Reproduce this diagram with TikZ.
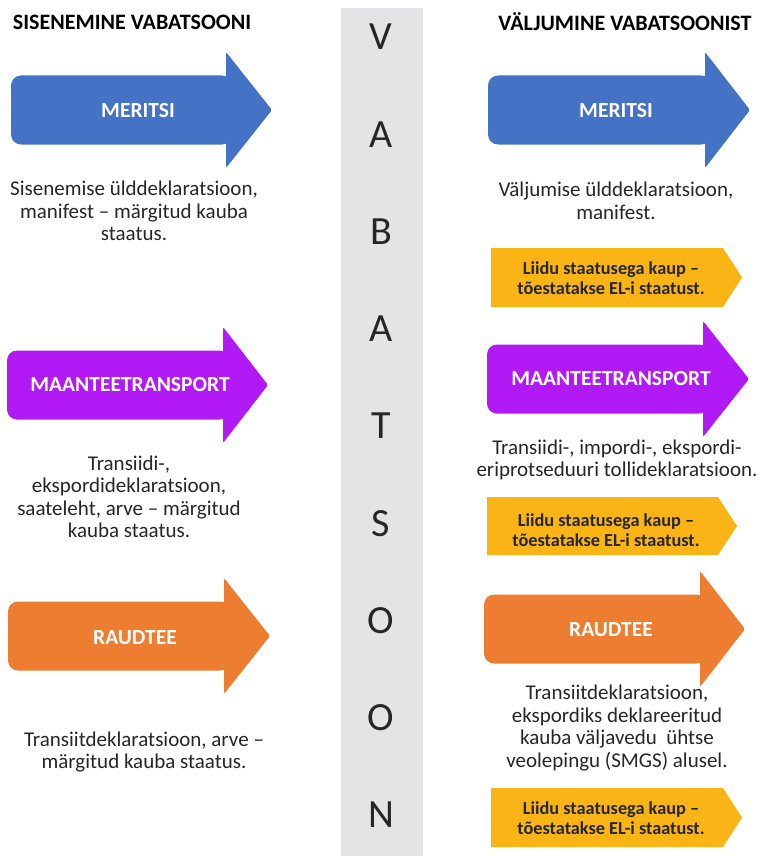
\documentclass[tikz,border=0pt]{standalone}
\usepackage{fontspec}
\setmainfont{Carlito}
\usepackage{xcolor}
\definecolor{myblue}{RGB}{68,114,196}
\definecolor{mypurple}{RGB}{178,26,245}
\definecolor{myorange}{RGB}{237,125,49}
\definecolor{myyellow}{RGB}{250,180,22}
\definecolor{mygray}{RGB}{228,228,230}
\definecolor{mytext}{RGB}{38,38,38}

\begin{document}
\begin{tikzpicture}[x=1pt,y=-1pt,
  kopf/.style={font=\bfseries\fontsize{22}{24}\selectfont, text=black},
  pfeiltext/.style={font=\bfseries\fontsize{21.5}{24}\selectfont, text=white},
  fliess/.style={font=\fontsize{21}{22.5}\selectfont, text=mytext, align=center},
  gelbtext/.style={font=\bfseries\fontsize{18.3}{20.5}\selectfont, text=mytext, align=center},
  buchst/.style={font=\fontsize{40}{40}\selectfont, text=mytext}]
\useasboundingbox (0,0) rectangle (763,856);

%Pfeil: Farbe, x links, x Kopf, x Spitze, y Mitte
\newcommand\pfeil[5]{%
  \fill[#1, rounded corners=10pt] (#3+6,#5-34.5) -- (#2,#5-34.5) -- (#2,#5+34.5) -- (#3+6,#5+34.5) -- cycle;
  \fill[#1, rounded corners=2pt] (#3,#5-58) -- (#4,#5) -- (#3,#5+58) -- cycle;}
%Fuenfeck gelb: x links, x Knick, x Spitze, y oben, y unten
\newcommand\fahne[5]{%
  \fill[myyellow] (#1,#4) -- (#2,#4) -- (#3,#4/2+#5/2) -- (#2,#5) -- (#1,#5) -- cycle;}

%Balken in der Mitte
\fill[mygray] (341,8) rectangle (423,856);
\foreach \b [count=\i from 0] in {V,A,B,A,T,S,O,O,N}
  \node[buchst] (b\i) at (381,37+97.25*\i) {\b};

%Ueberschriften
\node[kopf] (kl) at (132,22) {SISENEMINE VABATSOONI};
\node[kopf] (kr) at (625,22) {VÄLJUMINE VABATSOONIST};

%Pfeile links
\pfeil{myblue}{11}{226}{272}{110}
\pfeil{mypurple}{7}{223}{268}{385}
\pfeil{myorange}{8}{224}{270}{636}
\node[pfeiltext] (ml) at (138,111) {MERITSI};
\node[pfeiltext] (tl) at (130,385) {MAANTEETRANSPORT};
\node[pfeiltext] (rl) at (135,638) {RAUDTEE};

%Texte links
\node[fliess] (sl) at (134,211) {Sisenemise ülddeklaratsioon,\\manifest – märgitud kauba\\staatus.};
\node[fliess] (el) at (129,497) {Transiidi-,\\ekspordideklaratsioon,\\saateleht, arve – märgitud\\kauba staatus.};
\node[fliess] (al) at (144,752) {Transiitdeklaratsioon, arve –\\märgitud kauba staatus.};

%Pfeile rechts
\pfeil{myblue}{488}{705}{750}{110}
\pfeil{mypurple}{487}{703}{749}{379}
\pfeil{myorange}{484}{700}{745}{629}
\node[pfeiltext] (mr) at (616,111) {MERITSI};
\node[pfeiltext] (tr) at (611,379) {MAANTEETRANSPORT};
\node[pfeiltext] (rr) at (611,630) {RAUDTEE};

%Texte rechts
\node[fliess] (sr) at (616,201) {Väljumise ülddeklaratsioon,\\manifest.};
\node[fliess] (er) at (617,460) {Transiidi-, impordi-, ekspordi-\\eriprotseduuri tollideklaratsioon.};
\node[fliess] (ar) at (617,728) {Transiitdeklaratsioon,\\ekspordiks deklareeritud\\kauba väljavedu \ ühtse\\veolepingu (SMGS) alusel.};

%Gelbe Fahnen
\fahne{491}{723}{742}{248}{307}
\fahne{487}{718}{737}{497}{555}
\fahne{491}{723}{742}{788}{847}
\node[gelbtext] (g1) at (611,278) {Liidu staatusega kaup –\\tõestatakse EL-i staatust.};
\node[gelbtext] (g2) at (606,530) {Liidu staatusega kaup –\\tõestatakse EL-i staatust.};
\node[gelbtext] (g3) at (611,818) {Liidu staatusega kaup –\\tõestatakse EL-i staatust.};

\end{tikzpicture}
\end{document}
